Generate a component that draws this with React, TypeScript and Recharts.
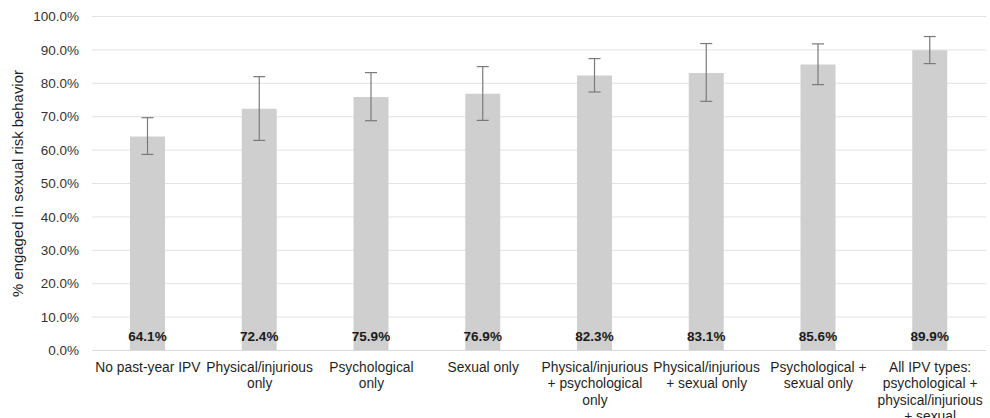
import React from 'react';
import {
  BarChart,
  Bar,
  XAxis,
  YAxis,
  CartesianGrid,
  ErrorBar,
  LabelList,
} from 'recharts';

// IPV exposure groups (line breaks mark where the axis label wraps)
const categories: string[] = [
  'No past-year IPV',
  'Physical/injurious\nonly',
  'Psychological\nonly',
  'Sexual only',
  'Physical/injurious\n+ psychological\nonly',
  'Physical/injurious\n+ sexual only',
  'Psychological +\nsexual only',
  'All IPV types:\npsychological +\nphysical/injurious\n+ sexual',
];

// % engaged in sexual risk behavior
const percentEngaged: number[] = [64.1, 72.4, 75.9, 76.9, 82.3, 83.1, 85.6, 89.9];

// 95% confidence bounds
const ciLower: number[] = [58.7, 62.9, 68.8, 68.9, 77.4, 74.6, 79.6, 85.9];
const ciUpper: number[] = [69.7, 82.0, 83.2, 85.0, 87.4, 91.9, 91.8, 94.0];

const yTicks: number[] = [0, 10, 20, 30, 40, 50, 60, 70, 80, 90, 100];

const data = categories.map((name, i) => ({
  name,
  value: percentEngaged[i],
  err: [percentEngaged[i] - ciLower[i], ciUpper[i] - percentEngaged[i]],
}));

const FONT = '"Liberation Sans", Arial, sans-serif';

const CategoryTick = (props: any) => {
  const { x, y, payload } = props;
  const lines = String(payload.value).split('\n');
  return (
    <g>
      {lines.map((line: string, i: number) => (
        <text
          key={i}
          x={x}
          y={y + 13.3 + i * 16.4}
          textAnchor="middle"
          fontFamily={FONT}
          fontSize={13.8}
          fill="#1f1f1f"
        >
          {line}
        </text>
      ))}
    </g>
  );
};

const ValueLabel = (props: any) => {
  const { x, y, width, height, value } = props;
  return (
    <text
      x={x + width / 2}
      y={y + height - 9.5}
      textAnchor="middle"
      fontFamily={FONT}
      fontSize={13.5}
      fontWeight="bold"
      fill="#1a1a1a"
    >
      {Number(value).toFixed(1)}%
    </text>
  );
};

const AxisTitle = (props: any) => {
  const { viewBox } = props;
  const cx = 18;
  const cy = viewBox.y + viewBox.height / 2;
  return (
    <text
      x={cx}
      y={cy}
      transform={`rotate(-90, ${cx}, ${cy})`}
      textAnchor="middle"
      dominantBaseline="central"
      fontFamily={FONT}
      fontSize={14.9}
      fill="#1f1f1f"
    >
      % engaged in sexual risk behavior
    </text>
  );
};

export default function App() {
  return (
    <div style={{ width: 990, height: 418, background: '#fff' }}>
      <style>{'body{margin:0}'}</style>
      <BarChart
        width={990}
        height={418}
        data={data}
        margin={{ top: 16.5, right: 4, bottom: 0, left: 0 }}
      >
        <CartesianGrid vertical={false} stroke="#e3e3e3" />
        <XAxis
          dataKey="name"
          height={67.5}
          interval={0}
          tickLine={false}
          axisLine={{ stroke: '#d9d9d9' }}
          tick={<CategoryTick />}
        />
        <YAxis
          width={92}
          domain={[0, 100]}
          ticks={yTicks}
          tickLine={false}
          axisLine={false}
          tickMargin={7}
          tickFormatter={(v: number) => `${v.toFixed(1)}%`}
          tick={{ fontFamily: FONT, fontSize: 13.5, fill: '#333333' }}
          label={<AxisTitle />}
        />
        <Bar dataKey="value" fill="#cfcfcf" barSize={35} isAnimationActive={false}>
          <ErrorBar
            dataKey="err"
            width={6}
            stroke="#7a7a7a"
            strokeWidth={1.2}
            direction="y"
          />
          <LabelList dataKey="value" content={<ValueLabel />} />
        </Bar>
      </BarChart>
    </div>
  );
}
